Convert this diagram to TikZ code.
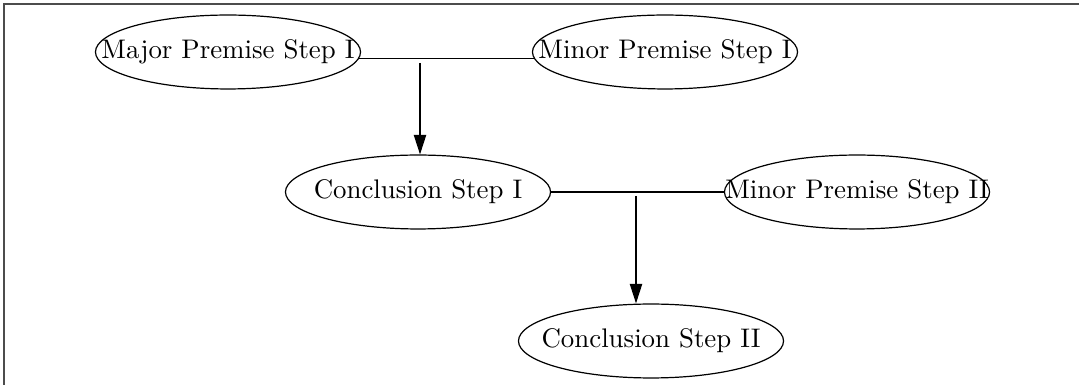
\documentclass[tikz,border=0pt]{standalone}
\usetikzlibrary{shapes.geometric,arrows.meta}
\begin{document}
\begin{tikzpicture}[x=0.372pt,y=-0.372pt,
  stepnode/.style={draw, ellipse, inner sep=0pt, line width=0.45pt,
    minimum width=98.6pt, minimum height=27.5pt},
  link/.style={line width=0.45pt},
  flow/.style={line width=0.45pt,-{Triangle[length=7.3pt,width=4.6pt]}},
  framestyle/.style={line width=0.7pt, draw=black!70}]
\useasboundingbox (0,0) rectangle (1079,385);
\draw[framestyle] (4,385) -- (4,4) -- (1079,4);
\node[stepnode] (maj) at (228,52) {\makebox[0pt]{Major Premise Step I}};
\node[stepnode] (mn1) at (665,52) {\makebox[0pt]{Minor Premise Step I}};
\node[stepnode] (c1) at (418,192) {\makebox[0pt]{Conclusion Step I}};
\node[stepnode] (mn2) at (857,192) {\makebox[0pt]{Minor Premise Step II}};
\node[stepnode] (c2) at (651,341) {\makebox[0pt]{Conclusion Step II}};
\draw[link] (maj.-3.5) -- (mn1.183.5);
\coordinate (j1) at (420,63);
\draw[flow] (j1) -- (j1 |- c1.north);
\draw[link] (c1.east) -- (mn2.west);
\coordinate (j2) at (636,196);
\draw[flow] (j2) -- (j2 |- c2.north);
\end{tikzpicture}
\end{document}
